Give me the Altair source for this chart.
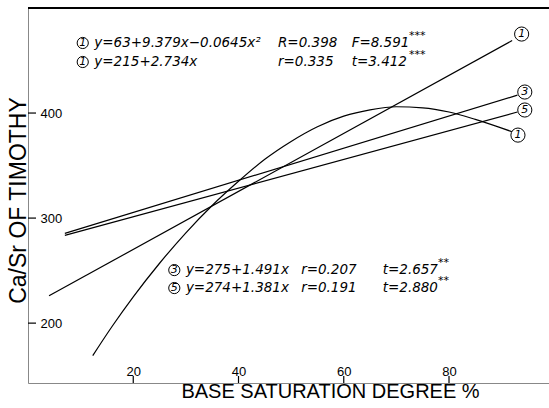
import altair as alt
import pandas as pd

W, H = 521, 375
FONT = "DejaVu Sans"

# ---- data ----
lin1_x = [4.0, 92.0]
lin1_y = [226, 469]
lin3_x = [7.0, 93.0]
lin3_y = [285.5, 417]
lin5_x = [7.0, 93.0]
lin5_y = [283.5, 401]
quad_x = [12.3, 16, 20, 25, 30, 35, 40, 45, 50, 55, 60, 65, 70, 75, 80, 85, 92.1]
quad_y = [169, 197, 225, 257, 286, 312, 335, 356, 373, 387, 397, 403, 406, 405, 401, 394, 382]

x_ticks = [20, 40, 60, 80]
y_ticks = [200, 300, 400]

# end-of-line circle labels
end_lab = ["1", "3", "5", "1"]
end_x = [93.8, 94.4, 94.4, 93.1]
end_y = [475.2, 420.0, 402.9, 379.0]

# equation annotations
leg_lab = ["1", "1", "3", "5"]
leg_x = [10.4, 10.4, 27.8, 27.8]
leg_y = [466.7, 448.6, 250.5, 233.4]

ann_text = ["y=63+9.379x\u22120.0645x\u00b2", "R=0.398", "F=8.591",
            "y=215+2.734x", "r=0.335", "t=3.412",
            "y=275+1.491x", "r=0.207", "t=2.657",
            "y=274+1.381x", "r=0.191", "t=2.880"]
ann_x = [12.6, 47.5, 61.5,
         12.6, 47.5, 61.5,
         30.0, 51.9, 67.4,
         30.0, 51.9, 67.4]
ann_y = [466.7, 466.7, 466.7,
         448.6, 448.6, 448.6,
         250.5, 250.5, 250.5,
         233.4, 233.4, 233.4]

sig_text = ["***", "***", "**", "**"]
sig_x = [72.4, 72.4, 77.9, 77.9]
sig_y = [473.5, 455.0, 257.5, 240.5]

# ---- tables ----
rows = []
for name, xs, ys in [("1q", quad_x, quad_y), ("1l", lin1_x, lin1_y),
                     ("3", lin3_x, lin3_y), ("5", lin5_x, lin5_y)]:
    for i, (a, b) in enumerate(zip(xs, ys)):
        rows.append({"series": name, "x": a, "y": b, "o": i})
lines_df = pd.DataFrame(rows)

circ_df = pd.DataFrame(
    [{"x": a, "y": b, "t": t, "s": 200} for a, b, t in zip(end_x, end_y, end_lab)]
    + [{"x": a, "y": b, "t": t, "s": 125} for a, b, t in zip(leg_x, leg_y, leg_lab)]
)
ann_df = pd.DataFrame({"x": ann_x, "y": ann_y, "t": ann_text})
sig_df = pd.DataFrame({"x": sig_x, "y": sig_y, "t": sig_text})
xt_df = pd.DataFrame({"x": x_ticks})
yt_df = pd.DataFrame({"y": y_ticks})

xscale = alt.Scale(domain=[0, 99], nice=False, zero=False)
yscale = alt.Scale(domain=[143, 500], nice=False, zero=False)

X = alt.X("x:Q", scale=xscale, axis=alt.Axis(
    values=x_ticks, title="BASE SATURATION DEGREE %", ticks=False, grid=False,
    labelPadding=-8, labelBaseline="alphabetic", labelFontSize=13,
    titleX=302, titleY=14, titleAlign="center", titleBaseline="alphabetic",
    titleFontSize=20, titleFontWeight="normal"))
Y = alt.Y("y:Q", scale=yscale, axis=alt.Axis(
    values=y_ticks, title="Ca/Sr OF TIMOTHY", ticks=False, grid=False,
    labelAlign="left", labelPadding=-12, labelBaseline="middle", labelFontSize=13,
    titleAngle=270, titleX=-3, titleY=192, titleAlign="center",
    titleBaseline="alphabetic", titleFontSize=23, titleFontWeight="normal"))

lines = alt.Chart(lines_df).mark_line(
    color="black", strokeWidth=1.2, interpolate="monotone"
).encode(x=X, y=Y, detail="series:N", order="o:Q")

top = alt.Chart(xt_df).mark_rule(color="black", strokeWidth=1.3).encode(
    x=alt.value(0), x2=alt.value(W), y=alt.value(0))

xt = alt.Chart(xt_df).mark_rule(color="black", strokeWidth=1.2).encode(
    x=X, y=alt.value(H), y2=alt.value(H - 7))
yt = alt.Chart(yt_df).mark_rule(color="black", strokeWidth=1.2).encode(
    y=Y, x=alt.value(0), x2=alt.value(8))

circles = alt.Chart(circ_df).mark_point(
    shape="circle", filled=True, fill="white", stroke="black", strokeWidth=1, opacity=1
).encode(x=X, y=Y, size=alt.Size("s:Q", scale=None))
circ_txt = alt.Chart(circ_df).mark_text(
    font=FONT, fontStyle="italic", fontSize=11, color="black", baseline="middle", align="center"
).encode(x=X, y=Y, text="t:N")

ann = alt.Chart(ann_df).mark_text(
    font=FONT, fontStyle="italic", fontSize=13.5, color="black", baseline="middle", align="left"
).encode(x=X, y=Y, text="t:N")
sig = alt.Chart(sig_df).mark_text(
    font=FONT, fontSize=11, color="black", baseline="middle", align="left"
).encode(x=X, y=Y, text="t:N")

chart = alt.layer(lines, top, xt, yt, ann, sig, circles, circ_txt).properties(
    width=W, height=H,
    padding={"left": 28, "top": 8, "right": 0, "bottom": 25},
    autosize=alt.AutoSizeParams(type="none"),
).configure_view(stroke=None).configure_axis(
    domainColor="black", domainWidth=1.3, labelColor="black", titleColor="black",
    labelFont=FONT, titleFont=FONT
).configure(background="white")

chart.save("out.html", embed_options={"renderer": "svg", "actions": False})
